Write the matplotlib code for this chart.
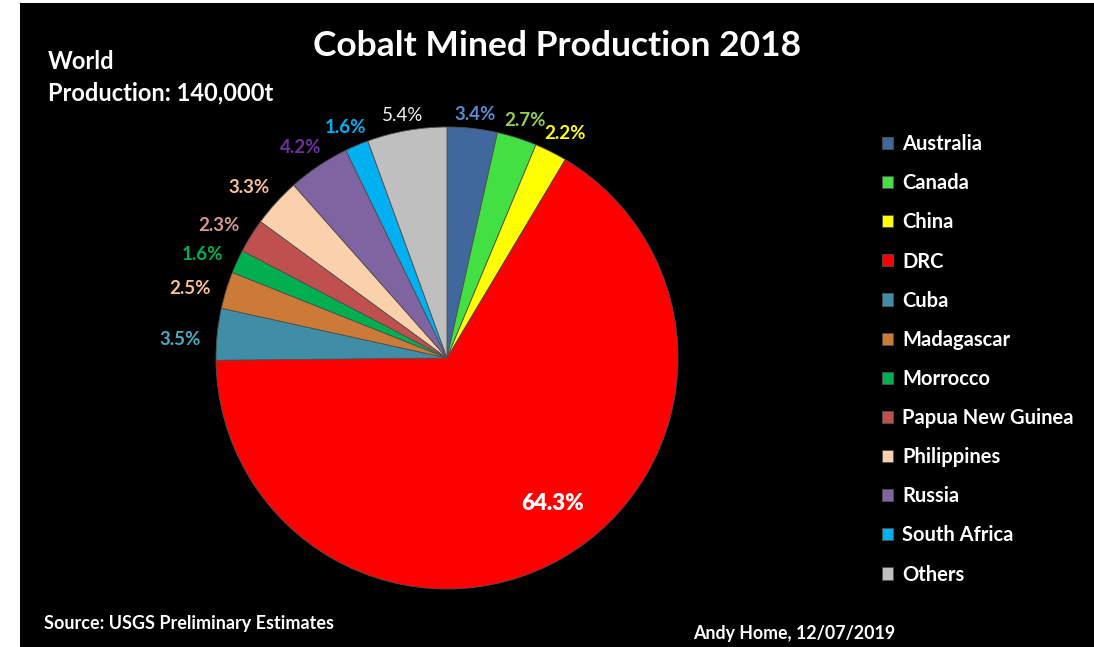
import matplotlib.pyplot as plt
import numpy as np
from matplotlib.patches import Rectangle

countries = ['Australia', 'Canada', 'China', 'DRC', 'Cuba', 'Madagascar',
             'Morrocco', 'Papua New Guinea', 'Philippines', 'Russia',
             'South Africa', 'Others']
share = [3.4, 2.7, 2.2, 64.3, 3.5, 2.5, 1.6, 2.3, 3.3, 4.2, 1.6, 5.4]

slice_colors = ['#41689C', '#43E043', '#FFFF00', '#FF0000', '#3F8DA6', '#CC7A38',
                '#00B050', '#C0504D', '#FBD0AC', '#8064A2', '#00B0F0', '#BFBFBF']
label_colors = ['#5A8AD0', '#92D050', '#FFFF00', '#FFFFFF', '#4BACC6', '#FAC090',
                '#00B050', '#D99694', '#FAC090', '#7030A0', '#00B0F0', '#F2F2F2']

W, H = 1094, 647
FONT = 'Lato'

fig = plt.figure(figsize=(W / 100, H / 100), dpi=100)
fig.patch.set_facecolor('white')
fig.patches.append(Rectangle((20 / W, 0), 1 - 20 / W, 1 - 3 / H,
                             transform=fig.transFigure, facecolor='black',
                             edgecolor='none', zorder=-10))

# pie centre and radius in pixels
cx, cy, r = 447, 358, 231
ax = fig.add_axes([(cx - r) / W, (H - cy - r) / H, 2 * r / W, 2 * r / H])

wedges, _ = ax.pie(share, colors=slice_colors, startangle=90, counterclock=False,
                   radius=1, wedgeprops=dict(edgecolor='#505050', linewidth=0.6))
ax.set_xlim(-1, 1)
ax.set_ylim(-1, 1)
ax.axis('off')

for i, w in enumerate(wedges):
    theta = np.deg2rad((w.theta1 + w.theta2) / 2)
    s, c = np.cos(theta), np.sin(theta)
    txt = f'{share[i]}%'
    if countries[i] == 'DRC':
        t2 = theta + np.deg2rad(6)
        ax.text(0.78 * np.cos(t2), 0.78 * np.sin(t2), txt, color='white',
                fontsize=16, fontweight='heavy', family=FONT,
                ha='center', va='center')
        continue
    # outside-end labels, pushed out by half the text box
    rr = 1.05 + (25 * abs(s) + 9 * abs(c)) / r
    weight = 'normal' if countries[i] == 'Others' else 'bold'
    ax.text(rr * s, rr * c - 9 / r, txt, color=label_colors[i], fontsize=13.5,
            fontweight=weight, family=FONT, ha='center', va='center')

leg = fig.legend(wedges, countries, loc='upper left',
                 bbox_to_anchor=(864 / W, 1 - 116 / H), frameon=False,
                 handlelength=0.55, handleheight=0.55, handletextpad=0.45,
                 labelspacing=0.95, prop=dict(family=FONT, weight='bold', size=14.5))
for t in leg.get_texts():
    t.set_color('white')

fig.text(557 / W, 1 - 46 / H, 'Cobalt Mined Production 2018', color='white',
         fontsize=25.5, fontweight='bold', family=FONT, ha='center', va='center')
fig.text(48 / W, 1 - 50 / H, 'World\nProduction: 140,000t', color='white',
         fontsize=17, fontweight='bold', family=FONT, ha='left', va='top',
         linespacing=1.42)
fig.text(44 / W, 1 - 624 / H, 'Source: USGS Preliminary Estimates', color='white',
         fontsize=13, fontweight='bold', family=FONT, ha='left', va='center')
fig.text(693 / W, 1 - 633 / H, 'Andy Home, 12/07/2019', color='white',
         fontsize=12.8, fontweight='bold', family=FONT, ha='left', va='center')

fig.savefig('out.png', dpi=100, facecolor=fig.get_facecolor())
